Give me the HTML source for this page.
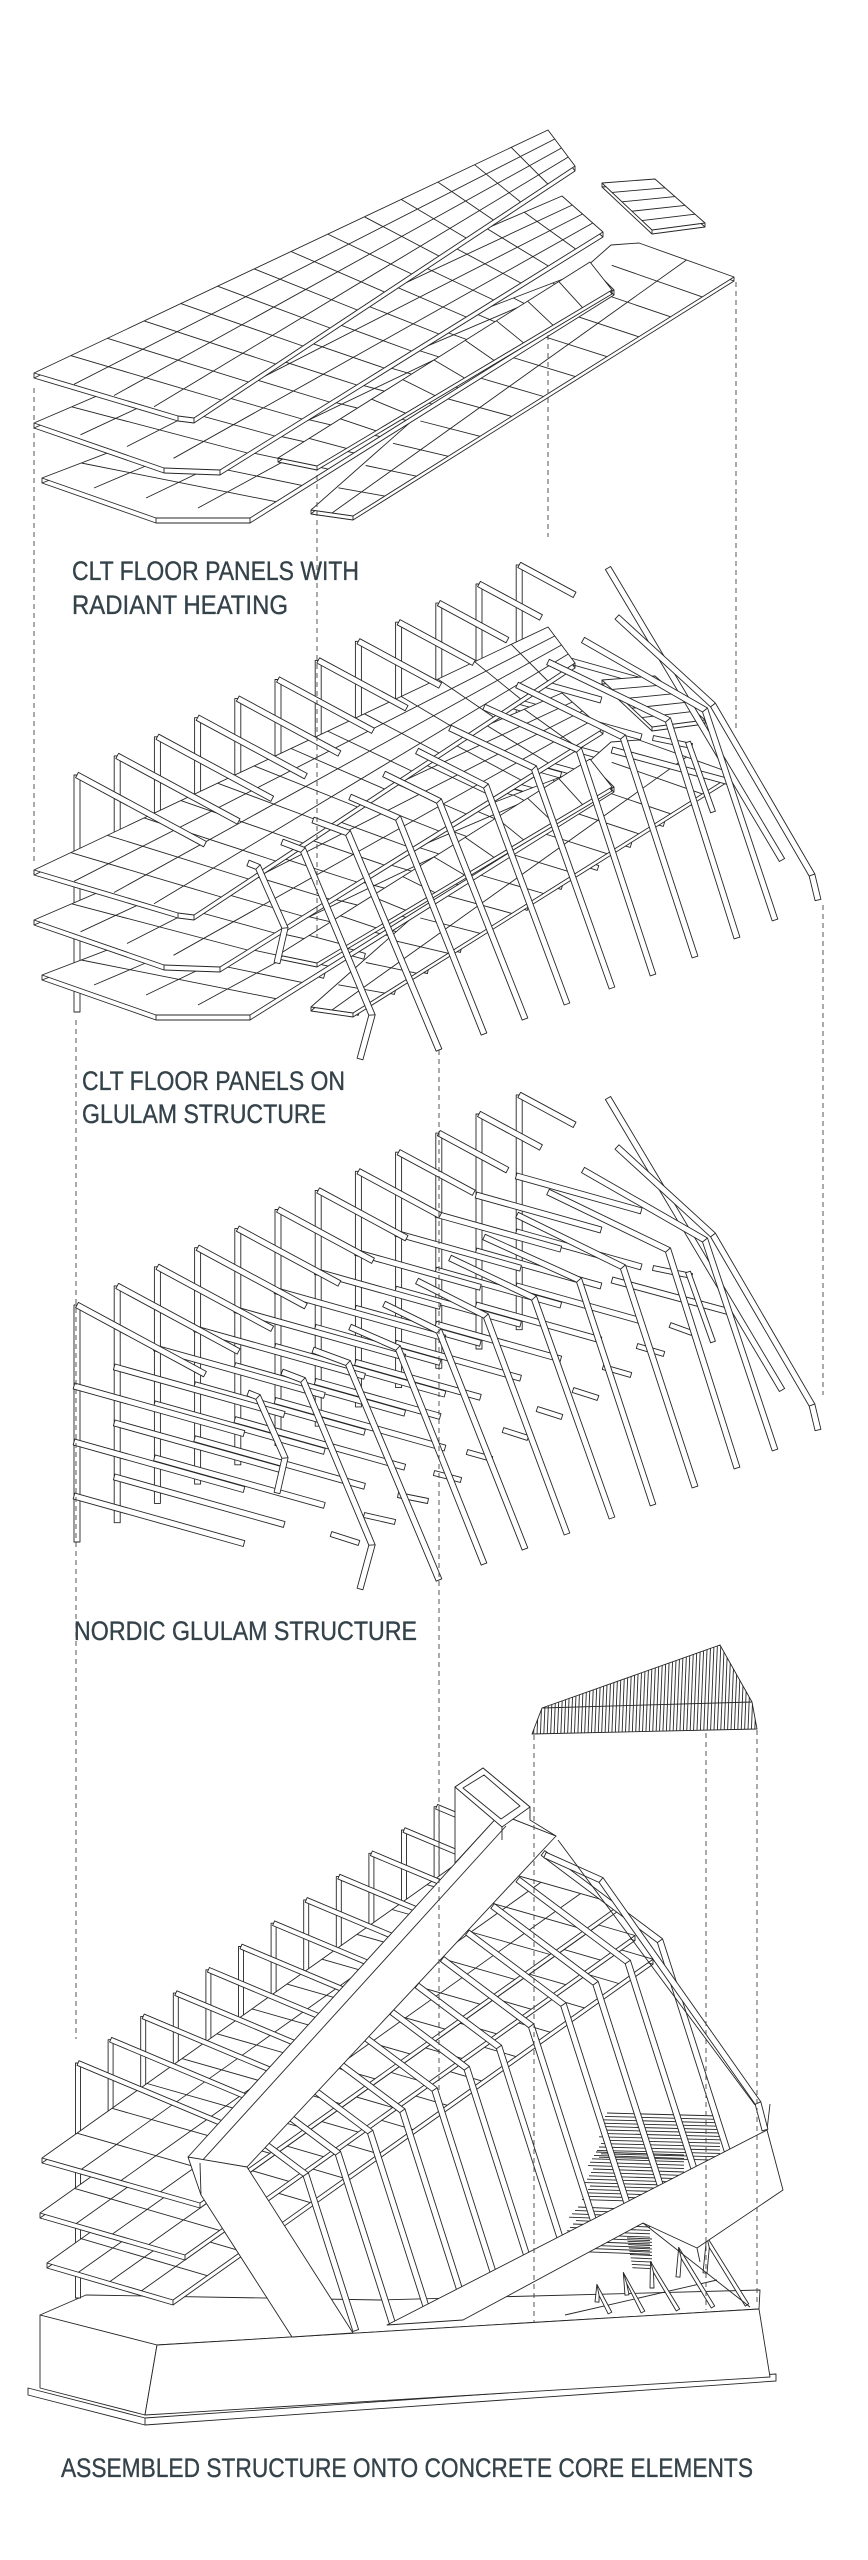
<!DOCTYPE html>
<html><head><meta charset="utf-8"><style>
html,body{margin:0;padding:0;background:#fff;}
svg{display:block;}
text{font-family:"Liberation Sans",Arial,sans-serif;fill:#34424a;stroke:#34424a;stroke-width:0.35;}
</style></head><body>
<svg id="s" xmlns="http://www.w3.org/2000/svg" width="868" height="2560" viewBox="0 0 868 2560">
<rect width="868" height="2560" fill="#fff"/>
<g id="d" stroke="#262626" stroke-width="0.9" stroke-linejoin="round"></g>
<g id="dash" stroke="#444" stroke-width="0.9" stroke-dasharray="5 4" fill="none">
<line x1="34" y1="388" x2="34" y2="862"/>
<line x1="317" y1="466" x2="317" y2="938"/>
<line x1="548" y1="335" x2="548" y2="537"/>
<line x1="736" y1="282" x2="736" y2="728"/>
<line x1="76" y1="1020" x2="76" y2="2039"/>
<line x1="439" y1="1050" x2="439" y2="2090"/>
<line x1="823" y1="905" x2="823" y2="1395"/>
<line x1="534" y1="1735" x2="534" y2="2322"/>
<line x1="706" y1="1733" x2="706" y2="2310"/>
<line x1="757" y1="1730" x2="757" y2="2303"/>
</g>
<g font-size="27">
<text x="72" y="580" textLength="287" lengthAdjust="spacingAndGlyphs">CLT FLOOR PANELS WITH</text>
<text x="72" y="614" textLength="216" lengthAdjust="spacingAndGlyphs">RADIANT HEATING</text>
<text x="82" y="1090" textLength="263" lengthAdjust="spacingAndGlyphs">CLT FLOOR PANELS ON</text>
<text x="82" y="1123" textLength="244" lengthAdjust="spacingAndGlyphs">GLULAM STRUCTURE</text>
<text x="74" y="1640" textLength="343" lengthAdjust="spacingAndGlyphs">NORDIC GLULAM STRUCTURE</text>
<text x="61" y="2477" textLength="692" lengthAdjust="spacingAndGlyphs">ASSEMBLED STRUCTURE ONTO CONCRETE CORE ELEMENTS</text>
</g>
</svg>
<script>
(function(){
var out=[];var cid=0;
function f(n){return Math.round(n*10)/10;}
function pts(a){return a.map(function(p){return f(p[0])+','+f(p[1]);}).join(' ');}
function line(a,b){out.push('<line x1="'+f(a[0])+'" y1="'+f(a[1])+'" x2="'+f(b[0])+'" y2="'+f(b[1])+'"/>');}
function poly(a,fill){out.push('<polygon points="'+pts(a)+'" fill="'+(fill||'#fff')+'"/>');}
function sh(a,dx,dy){return a.map(function(p){return [p[0]+dx,p[1]+dy];});}
function lerp(a,b,t){return [a[0]+(b[0]-a[0])*t,a[1]+(b[1]-a[1])*t];}
function barPoly(p,w){
  var h=w/2,n=p.length,Lp=[],Rp=[];
  for(var i=0;i<n;i++){
    var nrm=[];
    if(i>0){var dx=p[i][0]-p[i-1][0],dy=p[i][1]-p[i-1][1],l=Math.hypot(dx,dy)||1;nrm.push([-dy/l,dx/l]);}
    if(i<n-1){var dx2=p[i+1][0]-p[i][0],dy2=p[i+1][1]-p[i][1],l2=Math.hypot(dx2,dy2)||1;nrm.push([-dy2/l2,dx2/l2]);}
    var sx=0,sy=0;nrm.forEach(function(q){sx+=q[0];sy+=q[1];});
    var ll=Math.hypot(sx,sy)||1;sx/=ll;sy/=ll;
    var c=Math.max(0.35,sx*nrm[0][0]+sy*nrm[0][1]);
    Lp.push([p[i][0]+sx*h/c,p[i][1]+sy*h/c]);
    Rp.push([p[i][0]-sx*h/c,p[i][1]-sy*h/c]);
  }
  return [Lp,Rp];
}
function bar(p,w){var r=barPoly(p,w);poly(r[0].concat(r[1].slice().reverse()));for(var i=1;i<p.length-1;i++)line(r[0][i],r[1][i]);}
function plate(q,nu,nv,th,pg){
  pg=pg||q;
  poly(sh(pg,0,th));
  pg.forEach(function(p){line(p,[p[0],p[1]+th]);});
  poly(pg);
  var id='c'+(cid++);
  out.push('<clipPath id="'+id+'"><polygon points="'+pts(pg)+'"/></clipPath><g clip-path="url(#'+id+')">');
  for(var i=1;i<nu;i++){var t=i/nu;line(lerp(q[0],q[1],t),lerp(q[3],q[2],t));}
  for(var j=1;j<nv;j++){var s=j/nv;line(lerp(q[0],q[3],s),lerp(q[1],q[2],s));}
  out.push('</g>');
}

/* ---------- floor stack (panel 1, reused in panel 2) ---------- */
function floors1(dy){
  var S=function(a){return sh(a,0,dy);};
  plate(S([[311,510],[639,243],[734,277],[353,516]]),12,2,4,S([[311,510],[611,245],[639,243],[734,277],[353,516]]));
  plate(S([[42,478],[592,268],[614,290],[250,518]]),14,4,5,S([[42,478],[592,268],[614,290],[250,518],[156,518]]));
  plate(S([[278,458],[590,262],[612,290],[317,466]]),10,1,4);
  plate(S([[34,423],[562,196],[603,232],[220,470]]),14,4,5,S([[34,423],[562,196],[603,232],[220,470],[164,468]]));
  plate(S([[34,373],[548,130],[575,166],[194,418]]),14,4,5,S([[34,373],[548,130],[575,166],[194,418],[178,416]]));
  var e=S([[602,183],[655,179],[705,223],[652,230]]);
  plate(e,1,1,4);
  for(var i=1;i<5;i++){var t=i/5;line(lerp(e[0],e[3],t),lerp(e[1],e[2],t));}
}

/* ---------- glulam (panel 3, reused in panel 2) ---------- */
var STUBS=[[[653,1268],[692,1276]],[[670,1325],[692,1333]],[[637,1346],[664,1354]],[[603,1367],[631,1375]],[[573,1390],[598,1398]],[[537,1409],[562,1417]],[[503,1430],[528,1438]],[[467,1452],[492,1459]],[[434,1473],[461,1480]],[[398,1495],[428,1501]],[[364,1515],[395,1522]],[[331,1534],[359,1543]]];
var RAF=[
 [[248,1393],[258,1397],[285,1458],[277,1493]],
 [[282,1372],[303,1380],[372,1545],[360,1589]],
 [[313,1350],[348,1363],[439,1580]],
 [[350,1327],[398,1348],[484,1564]],
 [[384,1304],[439,1331],[525,1549]],
 [[417,1281],[486,1316],[567,1534]],
 [[450,1258],[534,1298],[612,1518]],
 [[484,1237],[579,1280],[653,1505]],
 [[517,1215],[623,1267],[695,1487]],
 [[548,1192],[668,1250],[737,1468]],
 [[583,1170],[705,1240],[775,1450]],
 [[617,1147],[713,1235],[812,1405],[818,1430]],
 [[608,1098],[782,1390]]
];
function gUnder(dy){
  var i;
  for(i=11;i>=0;i--){var x=77+40.2*i,t=1305-19.1*i+dy,b=1542-19.3*i+dy;bar([[x,t],[x,b]],6);}
  for(i=11;i>=0;i--){
    var x2=77+40.2*i,t2=1305-19.1*i+dy,Lj=i<6?170:125;
    [81,137,191].forEach(function(o){bar([[x2-3,t2+o],[x2-3+Lj,t2+o+0.28*Lj]],6);});
  }
  STUBS.forEach(function(s){bar(sh(s,0,dy),5);});
}
function gOver(dy){
  for(var i=11;i>=0;i--){var x=77+40.2*i,t=1305-19.1*i+dy,L=128-6.6*i;bar([[x,t],[x+L,t+0.54*L]],6);}
  bar(sh([[612,1280],[730,1312]],0,dy),6);
  for(var j=RAF.length-1;j>=0;j--)bar(sh(RAF[j],0,dy),6);
  bar(sh([[688,1272],[713,1342]],0,dy),5);
}

/* ---------- panel 1 ---------- */
floors1(0);
/* ---------- panel 2 ---------- */
gUnder(-530);
floors1(497);
gOver(-530);
/* ---------- panel 3 ---------- */
gUnder(0);
gOver(0);

/* ---------- panel 4 ---------- */
(function(){
  var roof=[[532,1734],[542,1708],[720,1645],[752,1702],[757,1729]];
  poly(roof);
  out.push('<clipPath id="rf"><polygon points="'+pts(roof)+'"/></clipPath><g clip-path="url(#rf)">');
  for(var x=530;x<762;x+=3.4)line([x,1740],[x+4,1640]);
  out.push('</g>');
  line([542,1708],[752,1702]);
  // foot plate + slab
  poly([[28,2388],[145,2418],[776,2374],[776,2381],[145,2425],[28,2395]]);
  line([145,2418],[145,2425]);
  poly([[40,2315],[86,2295],[380,2300],[760,2290],[759,2309],[157,2345]]);
  poly([[40,2315],[157,2345],[145,2415],[40,2388]]);
  poly([[157,2345],[759,2309],[770,2377],[145,2415]]);
  // posts
  var i;
  for(i=11;i>=0;i--){var px=78+32.6*i,pt=2063-23.3*i;bar([[px,pt],[px,pt+235]],5);}
  // floors
  function fl(bl,fr,W){return [bl,[bl[0]+W,bl[1]-0.71*W],[fr[0]+W,fr[1]-0.71*W],fr];}
  plate(fl([47,2263],[173,2300],480),14,4,5);
  plate(fl([40,2213],[185,2255],450),13,4,5);
  plate(fl([42,2158],[200,2203],420),12,4,5);
  // frame beams
  for(i=11;i>=0;i--){var bx=78+32.6*i,bt=2063-23.3*i;var xe=(2363.8-bt+0.42*bx)/1.52+6;bar([[bx,bt],[xe,bt+0.42*(xe-bx)]],5);}
  // stairs (zig-zag flights)
  var s,y;
  for(s=0;s<14;s++){y=2113+s*3.4;line([607-(s%4)*2-Math.floor(s/4)*2,y],[720,y+3]);}
  for(s=0;s<15;s++){y=2152+s*3.4;line([596-(s%5)*2-Math.floor(s/5)*3,y],[684,y+3]);}
  for(s=0;s<14;s++){y=2207+s*3.4;line([578-(s%4)*3-Math.floor(s/4)*2,y],[650,y+3]);}
  for(s=0;s<10;s++){y=2238+s*3.3;line([627+s*0.6,y],[652,y+1]);}
  // interior rafters
  function yb(x){return x>=387?2325-0.513*(x-387):2330;}
  for(var k=11;k>=0;k--){
    var S=[543-25.2*k,1853+26.5*k];var L=Math.max(117-7*k,40);var K=[S[0]+L,S[1]+0.75*L];
    var t=0;while(K[1]+t<yb(K[0]+0.32*t)&&t<400)t+=1;
    bar([S,K,[K[0]+0.32*t,K[1]+t]],6);
  }
  // truss base + small trusses
  line([565,2315],[717,2280]);
  var TR=[[[597,2302],[598,2290],[610,2313]],[[627,2295],[625,2278],[643,2312]],[[652,2288],[652,2267],[678,2310]],[[678,2277],[680,2253],[713,2307]],[[705,2273],[708,2242],[747,2305]]];
  TR.forEach(function(tr){bar(tr,4);});
  // lower band
  poly([[387,2325],[767,2130],[783,2190],[697,2248],[643,2223],[463,2320]]);
  line([643,2223],[750,2307]);
  line([697,2248],[700,2262]);
  line([767,2130],[770,2104]);
  // outer rafter
  bar([[545,1855],[601,1880],[758,2103],[765,2130]],6);
  line([558,1840],[755,2105]);
  // concrete diagonal
  poly([[188,2157],[500,1814],[556,1836],[247,2167],[200,2163]]);
  line([200,2163],[506,1826]);
  poly([[188,2157],[247,2167],[353,2333],[292,2337],[201,2195]]);
  line([200,2163],[201,2195]);
  // box top
  poly([[455,1787],[483,1768],[530,1807],[530,1820],[556,1836],[500,1814],[455,1863]]);
  poly([[455,1787],[483,1768],[530,1807],[502,1827]]);
  poly([[463,1788],[484,1775],[520,1806],[501,1819]]);
  line([502,1827],[502,1840]);
})();

document.getElementById('d').innerHTML=out.join('');
})();
</script>
</body></html>
